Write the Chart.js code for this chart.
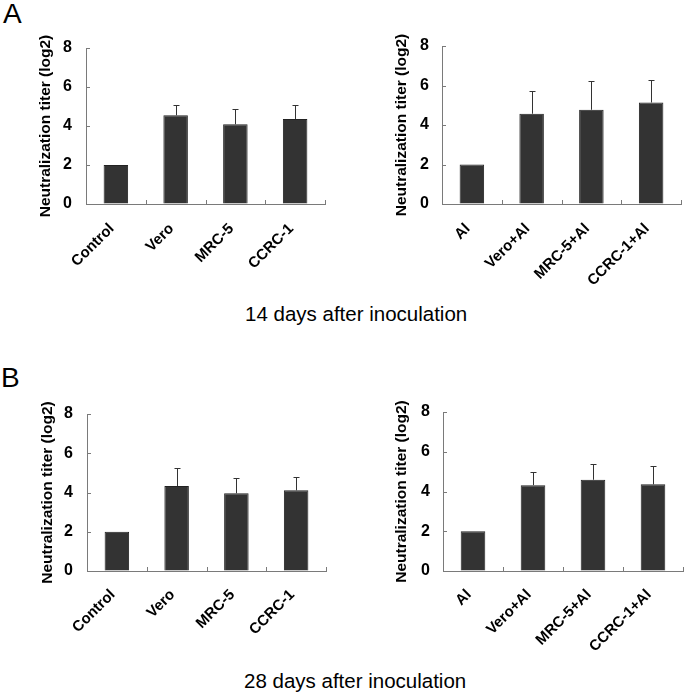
<!DOCTYPE html>
<html>
<head>
<meta charset="utf-8">
<script src="https://cdn.jsdelivr.net/npm/chart.js@4/dist/chart.umd.min.js"></script>
<style>
  body { margin: 0; background: #fff; }
  #wrap { position: relative; width: 685px; height: 694px; background: #fff; overflow: hidden; }
  canvas { position: absolute; }
  .txt { position: absolute; font-family: "Liberation Sans", Arial, sans-serif; color: #000; white-space: nowrap; }
  .letter { font-size: 28px; line-height: 28px; }
  .cap { font-size: 20.5px; line-height: 20px; }
</style>
</head>
<body>
<div id="wrap">
  <div class="txt letter" style="left:3px; top:0px;">A</div>
  <div class="txt letter" style="left:1px; top:364px;">B</div>
  <canvas id="c1" width="342" height="300" style="left:0px; top:0px;"></canvas>
  <canvas id="c2" width="343" height="300" style="left:342px; top:0px;"></canvas>
  <div class="txt cap" style="left:245px; top:304px;">14 days after inoculation</div>
  <canvas id="c3" width="342" height="300" style="left:0px; top:365px;"></canvas>
  <canvas id="c4" width="343" height="300" style="left:342px; top:365px;"></canvas>
  <div class="txt cap" style="left:244px; top:671px;">28 days after inoculation</div>
</div>
<script>
// groups
var groupsVirus = ['Control', 'Vero', 'MRC-5', 'CCRC-1'];
var groupsAl = ['Al', 'Vero+Al', 'MRC-5+Al', 'CCRC-1+Al'];

// mean titers (log2) and SD, 14 days
var day14Virus = [2.0, 4.55, 4.09, 4.36];
var day14VirusSd = [0, 0.51, 0.78, 0.70];
var day14Al = [2.0, 4.57, 4.77, 5.14];
var day14AlSd = [0, 1.13, 1.48, 1.16];

// 28 days
var day28Virus = [2.0, 4.33, 3.96, 4.11];
var day28VirusSd = [0, 0.90, 0.76, 0.66];
var day28Al = [2.0, 4.32, 4.59, 4.36];
var day28AlSd = [0, 0.67, 0.81, 0.94];

var yTicks = [0, 2, 4, 6, 8];

var FONT = '"Liberation Sans", Arial, sans-serif';
var AXIS = '#7a7a7a';

// upper error bars + inside tick marks
var extras = {
    id: 'extras',
    afterDatasetsDraw: function(chart) {
        var ctx = chart.ctx;
        var ys = chart.scales.y;
        var xs = chart.scales.x;
        var area = chart.chartArea;
        var sd = chart.options.plugins.extras.sd;
        var meta = chart.getDatasetMeta(0);
        var vals = chart.data.datasets[0].data;

        ctx.save();
        ctx.strokeStyle = '#333';
        ctx.lineWidth = 1;
        for (var i = 0; i < meta.data.length; i++) {
            if (!sd[i]) continue;
            var bar = meta.data[i];
            var top = ys.getPixelForValue(vals[i] + sd[i]);
            var x = Math.round(bar.x) + 0.5;
            ctx.beginPath();
            ctx.moveTo(x, bar.y);
            ctx.lineTo(x, Math.round(top) + 0.5);
            ctx.moveTo(x - 3, Math.round(top) + 0.5);
            ctx.lineTo(x + 3, Math.round(top) + 0.5);
            ctx.stroke();
        }

        ctx.strokeStyle = AXIS;
        ctx.beginPath();
        for (var j = 0; j < yTicks.length; j++) {
            var py = Math.round(ys.getPixelForValue(yTicks[j])) + 0.5;
            ctx.moveTo(area.left, py);
            ctx.lineTo(area.left + 4, py);
        }
        var n = chart.data.labels.length;
        for (var k = 1; k <= n; k++) {
            var px;
            if (k < n) px = (xs.getPixelForValue(k - 1) + xs.getPixelForValue(k)) / 2;
            else px = area.right;
            px = Math.round(px) + 0.5;
            ctx.moveTo(px, area.bottom);
            ctx.lineTo(px, area.bottom - 4);
        }
        ctx.stroke();
        ctx.restore();
    }
};

function panel(id, labels, values, sd, lay) {
    var ctx = document.getElementById(id).getContext('2d');
    return new Chart(ctx, {
        type: 'bar',
        data: {
            labels: labels,
            datasets: [{
                data: values,
                backgroundColor: '#333333',
                borderColor: '#222222',
                borderWidth: 1,
                categoryPercentage: 1.0,
                barPercentage: 0.41
            }]
        },
        options: {
            responsive: false,
            animation: false,
            devicePixelRatio: 1,
            layout: { padding: { top: lay.top, right: lay.right, left: 0, bottom: 0 } },
            plugins: {
                legend: { display: false },
                tooltip: { enabled: false },
                extras: { sd: sd }
            },
            scales: {
                x: {
                    grid: { display: true, drawOnChartArea: false, drawTicks: false },
                    border: { display: true, color: AXIS, width: 1 },
                    ticks: {
                        color: '#000',
                        font: { family: FONT, size: 15, weight: 'bold' },
                        maxRotation: 45,
                        minRotation: 45,
                        padding: lay.xpad,
                        labelOffset: -4,
                        autoSkip: false
                    },
                    afterFit: function(s) { s.height = lay.xh; }
                },
                y: {
                    min: 0,
                    max: 8,
                    afterBuildTicks: function(s) {
                        s.ticks = yTicks.map(function(v) { return { value: v }; });
                    },
                    grid: { display: true, drawOnChartArea: false, drawTicks: false },
                    border: { display: true, color: AXIS, width: 1 },
                    ticks: {
                        color: '#000',
                        font: { family: FONT, size: 16, weight: 'bold' },
                        padding: lay.ypad
                    },
                    title: {
                        display: true,
                        text: 'Neutralization titer (log2)',
                        color: '#000',
                        font: { family: FONT, size: 15.5, weight: 'bold' },
                        padding: { top: lay.tpad, bottom: 0 }
                    },
                    afterFit: function(s) { s.width = lay.yw; }
                }
            }
        },
        plugins: [extras]
    });
}

panel('c1', groupsVirus, day14Virus, day14VirusSd, { top: 48, right: 17, xh: 96, yw: 86, xpad: 16, ypad: 14, tpad: 36 });
panel('c2', groupsAl, day14Al, day14AlSd, { top: 46, right: 4, xh: 96, yw: 100, xpad: 16, ypad: 13, tpad: 50 });
panel('c3', groupsVirus, day28Virus, day28VirusSd, { top: 49, right: 16, xh: 94, yw: 87, xpad: 15, ypad: 14, tpad: 38 });
panel('c4', groupsAl, day28Al, day28AlSd, { top: 47, right: 2, xh: 94, yw: 101, xpad: 15, ypad: 13, tpad: 50 });
</script>
</body>
</html>
